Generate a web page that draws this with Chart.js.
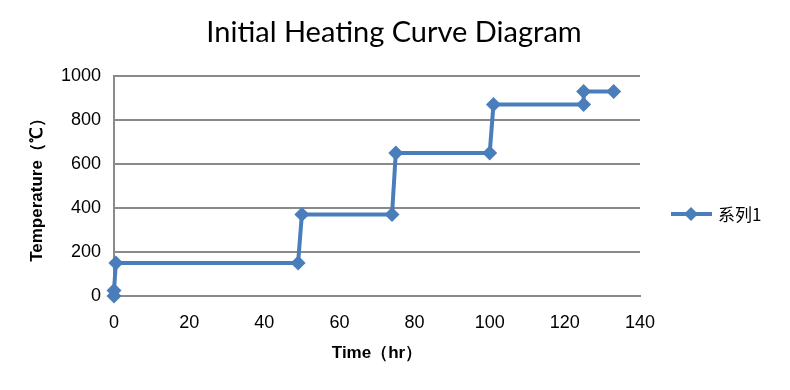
<!DOCTYPE html>
<html>
<head>
<meta charset="utf-8">
<script src="https://cdn.jsdelivr.net/npm/chart.js@4"></script>
<style>
  html, body { margin: 0; padding: 0; background: #fff; }
  #wrap { width: 790px; height: 390px; }
</style>
</head>
<body>
<div id="wrap"><canvas id="chart" width="790" height="390"></canvas></div>
<script>
// values
const timeHr = [0, 0, 0.5, 49, 50, 74, 75, 100, 101, 125, 125, 133];
const tempC = [0, 25, 150, 150, 370, 370, 650, 650, 870, 870, 930, 930];
const seriesName = '系列1';
const chartTitle = 'Initial Heating Curve Diagram';
const xTitle = 'Time（hr）';
const yTitle = 'Temperature（℃）';

const lineColor = '#4a7ebb';
const gridColor = '#8a8a8a';
const sans = '"Liberation Sans", Arial, sans-serif';

// title centred on the whole canvas, legend at right, Excel style
const decor = {
  id: 'decor',
  afterDraw(chart) {
    const ctx = chart.ctx;
    ctx.save();
    ctx.fillStyle = '#000';
    ctx.textAlign = 'center';
    ctx.textBaseline = 'middle';
    ctx.font = '29px Lato, "Open Sans", sans-serif';
    ctx.fillText(chartTitle, 394, 33);

    const y = 214;
    ctx.strokeStyle = lineColor;
    ctx.lineWidth = 4;
    ctx.beginPath();
    ctx.moveTo(671, y);
    ctx.lineTo(712, y);
    ctx.stroke();
    ctx.fillStyle = lineColor;
    ctx.beginPath();
    ctx.moveTo(691, y - 7);
    ctx.lineTo(698, y);
    ctx.lineTo(691, y + 7);
    ctx.lineTo(684, y);
    ctx.closePath();
    ctx.fill();
    ctx.fillStyle = '#000';
    ctx.textAlign = 'left';
    ctx.font = '17px "Noto Sans CJK SC", "Liberation Sans", sans-serif';
    ctx.fillText(seriesName, 718, y + 1);
    ctx.restore();
  }
};

new Chart(document.getElementById('chart'), {
  type: 'scatter',
  data: {
    datasets: [{
      label: seriesName,
      data: timeHr.map((t, i) => ({x: t, y: tempC[i]})),
      showLine: true,
      borderColor: lineColor,
      backgroundColor: lineColor,
      borderWidth: 4,
      pointStyle: 'rectRot',
      pointRadius: 7.5,
      pointHoverRadius: 7.5,
      pointBorderWidth: 0,
      tension: 0,
      clip: false
    }]
  },
  options: {
    responsive: false,
    animation: false,
    layout: { padding: { left: 0, right: 150, top: 76, bottom: 26 } },
    plugins: {
      legend: { display: false },
      tooltip: { enabled: false },
      title: { display: false }
    },
    scales: {
      x: {
        type: 'linear',
        min: 0,
        max: 140,
        ticks: {
          stepSize: 20,
          color: '#000',
          padding: 16,
          font: { family: sans, size: 18 }
        },
        grid: { display: false, drawTicks: false },
        border: { display: true, color: gridColor, width: 2 },
        title: {
          display: true,
          text: xTitle,
          color: '#000',
          font: { family: sans, size: 17, weight: 'bold' },
          padding: { top: -6, bottom: 0 }
        }
      },
      y: {
        min: 0,
        max: 1000,
        ticks: {
          stepSize: 200,
          color: '#000',
          padding: 13,
          font: { family: sans, size: 18 },
          callback: v => String(v)
        },
        grid: { color: gridColor, lineWidth: 2, drawTicks: false },
        border: { display: true, color: gridColor, width: 2 },
        title: {
          display: true,
          text: yTitle,
          color: '#000',
          font: { family: sans, size: 17, weight: 'bold' },
          padding: { top: 27, bottom: 0 }
        },
        afterFit(scale) { scale.width = 114; }
      }
    }
  },
  plugins: [decor]
});
</script>
</body>
</html>
